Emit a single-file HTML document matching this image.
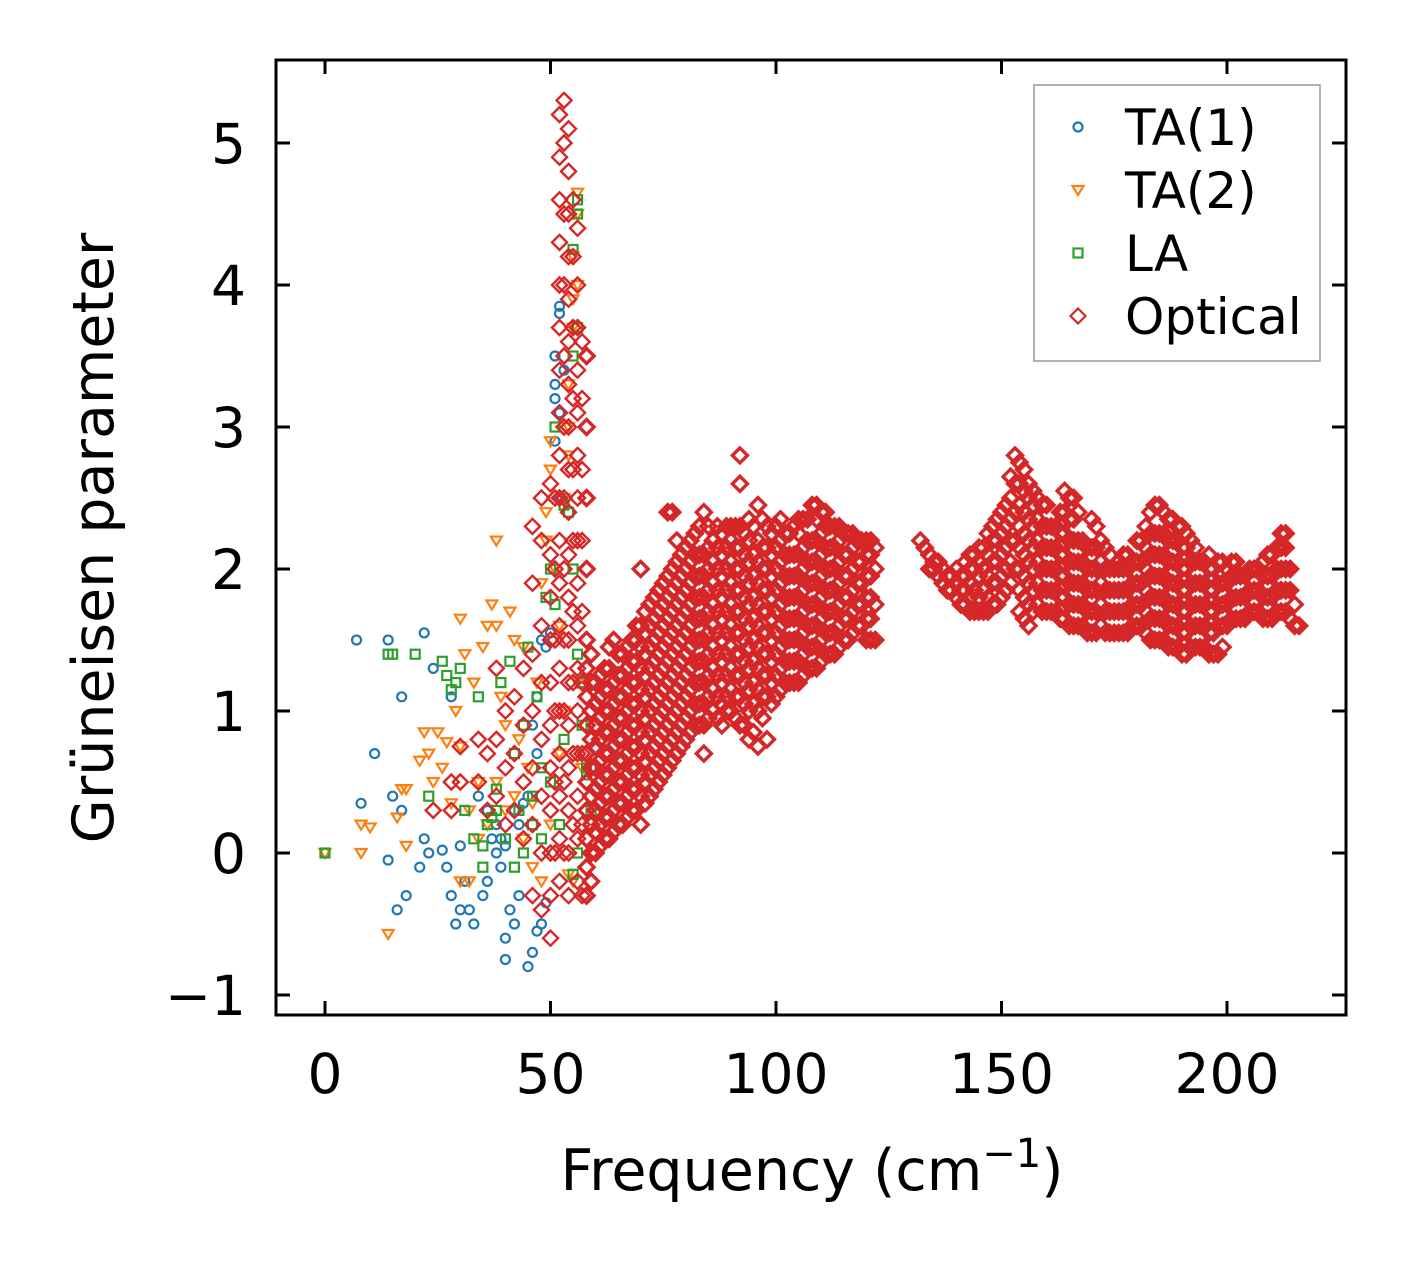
<!DOCTYPE html>
<html><head><meta charset="utf-8"><style>
html,body{margin:0;padding:0;background:#fff;}
svg{display:block;font-family:"DejaVu Sans","Liberation Sans",sans-serif;}
</style></head><body>
<svg id="chart" width="1406" height="1264" viewBox="0 0 1406 1264" xmlns="http://www.w3.org/2000/svg">
<g id="marks"></g>
<g id="axes"></g>
</svg>
<script>
const xTicks=[0,50,100,150,200];
const yTicks=[-1,0,1,2,3,4,5];
const ta1X=[0,7,8,11,14,14,15,16,17,17,18,22,21,22,23,24,26,28,28,29,30,31,32,33,34,35,36,37,38,39,40,40,41,42,42,43,44,45,46,47,48,49,45,46,47,48,49,50,51,51,51,52,52,53,52,51,52,47,38,40,36,30,27,39,43];
const ta1Y=[0,1.5,0.35,0.7,1.5,-0.05,0.4,-0.4,1.1,0.3,-0.3,1.55,-0.1,0.1,0,1.3,0.02,1.1,-0.3,-0.5,-0.4,-0.2,-0.4,-0.5,0.4,-0.3,-0.2,0.1,0.2,0.1,-0.6,-0.75,-0.4,-0.5,0.3,-0.3,0.35,-0.8,-0.7,-0.55,-0.5,-0.35,0.4,0.9,1.1,1.5,1.45,1.55,3.5,3.2,3.3,3.85,3.8,3.4,3.1,2.9,2.5,0.7,0,0.05,0.3,0.05,-0.1,-0.1,0.2];
const ta2X=[0,8,8,10,14,16,17,18,18,21,22,23,24,25,26,27,28,29,30,31,30,32,33,34,35,36,37,38,38,39,40,41,42,43,44,45,46,47,48,49,49,50,50,51,52,53,54,54,55,55,56,56,56,55,54,53,52,50,48,46,44,42,40,38,36,34,32,30,55,57,56,54];
const ta2Y=[0,0.2,0,0.18,-0.57,0.25,0.45,0.45,0.05,0.65,0.85,0.7,0.5,0.85,0.6,0.78,0.35,1.0,1.65,1.4,0.75,0.3,1.2,0.5,1.45,1.6,1.75,1.6,2.2,1.1,0.9,1.7,1.5,0.8,1.45,0.6,0.35,1.2,1.9,2.2,2.4,2.9,2.7,2.0,1.6,2.5,3.0,3.3,3.7,3.9,4.0,4.5,4.65,4.2,2.8,1.0,0.7,0.2,-0.2,-0.1,0.1,0.4,0.3,0.5,0.2,0.1,-0.2,-0.2,-0.2,0.6,1.2,-0.15];
const laX=[0,14,15,20,23,26,27,28,29,30,31,33,34,36,38,39,41,42,43,44,45,46,47,48,49,50,51,51,53,54,55,55,56,56,56,55,56,57,57,58,58,59,59,56,55,53,52,50,48,46,44,42,40,38,35,35,37];
const laY=[0,1.4,1.4,1.4,0.4,1.35,1.25,1.15,1.2,1.3,0.3,0.1,1.1,0.2,0.45,1.2,1.35,0.7,0.3,0.9,1.45,0.4,1.1,0.6,1.8,2.0,3.0,1.75,2.45,2.4,3.5,4.25,4.6,4.5,3.7,2.0,1.4,1.2,0.9,0.6,0.55,0.6,0.3,0,-0.15,0.8,0.2,0.5,0.1,0.2,0,-0.1,0.1,0.3,-0.1,0.05,0.25];
// optical: columns of [x, y...]
const opticalCols=[
[24,0.3],[28,0.3,0.5],[30,0.5,0.75],[34,0.5,0.8],[36,0.3,0.7],[38,0.4,0.8,1.3],[40,0.2,0.6,1.0],[42,0.3,0.7,1.1],[44,0.1,0.5,0.9,1.3],
[46,-0.3,0.2,0.6,1.0,1.4,1.9,2.3],[48,-0.4,0,0.4,0.8,1.2,1.6,2.2,2.5],
[50,-0.6,-0.3,0,0.3,0.6,0.9,1.2,1.5,1.8,2.1,2.6],
[51,0,0.5,1.0,1.5,2.0,2.5],
[52,-0.2,0.1,0.4,0.7,1.0,1.3,1.6,1.9,2.2,2.5,2.8,3.1,3.4,3.7,4.0,4.3,4.6,4.9,5.2],
[53,0,0.5,1.0,1.5,2.0,2.5,3.0,3.5,4.0,4.5,5.0,5.3],
[54,-0.3,0,0.3,0.6,0.9,1.2,1.5,1.8,2.1,2.4,2.7,3.0,3.3,3.6,3.9,4.2,4.5,4.8,5.1],
[55,0.2,0.7,1.2,1.7,2.2,2.7,3.2,3.7,4.2,4.6],
[56,-0.2,0.1,0.4,0.7,1.0,1.3,1.6,1.9,2.2,2.5,2.8,3.1,3.4,3.7,4.0,4.4],
[57,-0.3,0.2,0.7,1.2,1.7,2.2,2.7,3.2,3.6],
[58,-0.3,-0.1,0.1,0.3,0.5,0.7,0.9,1.1,1.3,1.5,2.0,2.5,3.0,3.5],
[59,-0.2,0,0.2,0.4,0.6,0.8,1.0,1.2,1.4],
[60,0,0.15,0.3,0.45,0.6,0.75,0.9,1.05,1.2],
[61,0.05,0.2,0.35,0.5,0.65,0.8,0.95,1.1,1.25],
[62,0.1,0.25,0.4,0.55,0.7,0.85,1.0,1.15,1.3],
[63,0.1,0.25,0.4,0.55,0.7,0.85,1.0,1.15,1.3,1.45],
[64,0.15,0.3,0.45,0.6,0.75,0.9,1.05,1.2,1.5],
[65,0.2,0.35,0.5,0.65,0.8,0.95,1.1,1.25,1.4],
[66,0.2,0.35,0.5,0.65,0.8,0.95,1.1,1.25,1.4],
[67,0.25,0.4,0.55,0.7,0.85,1.0,1.15,1.3,1.45],
[68,0.3,0.45,0.6,0.75,0.9,1.05,1.2,1.35,1.5],
[69,0.3,0.45,0.6,0.75,0.9,1.05,1.2,1.35,1.5,1.6],
[70,0.2,0.4,0.55,0.7,0.85,1.0,1.15,1.3,1.45,1.6,2.0],
[71,0.35,0.5,0.65,0.8,0.95,1.1,1.25,1.4,1.55,1.7],
[72,0.4,0.55,0.7,0.85,1.0,1.15,1.3,1.45,1.6,1.75],
[73,0.45,0.6,0.75,0.9,1.05,1.2,1.35,1.5,1.65,1.8],
[74,0.5,0.65,0.8,0.95,1.1,1.25,1.4,1.55,1.7,1.85],
[75,0.55,0.7,0.85,1.0,1.15,1.3,1.45,1.6,1.75,1.9],
[76,0.6,0.75,0.9,1.05,1.2,1.35,1.5,1.65,1.8,1.95,2.4],
[77,0.65,0.8,0.95,1.1,1.25,1.4,1.55,1.7,1.85,2.0,2.4],
[78,0.7,0.85,1.0,1.15,1.3,1.45,1.6,1.75,1.9,2.05,2.2],
[79,0.75,0.9,1.05,1.2,1.35,1.5,1.65,1.8,1.95,2.1],
[80,0.8,0.95,1.1,1.25,1.4,1.55,1.7,1.85,2.0,2.15],
[81,0.85,1.0,1.15,1.3,1.45,1.6,1.75,1.9,2.05,2.2],
[82,0.9,1.05,1.2,1.35,1.5,1.65,1.8,1.95,2.1,2.25],
[83,0.9,1.05,1.2,1.35,1.5,1.65,1.8,1.95,2.1,2.3],
[84,0.7,0.9,1.05,1.2,1.35,1.5,1.65,1.8,1.95,2.1,2.4],
[85,0.95,1.1,1.25,1.4,1.55,1.7,1.85,2.0,2.15,2.3],
[86,1.0,1.15,1.3,1.45,1.6,1.75,1.9,2.05,2.2],
[87,0.95,1.1,1.25,1.4,1.55,1.7,1.85,2.0,2.15,2.3],
[88,0.9,1.05,1.2,1.35,1.5,1.65,1.8,1.95,2.1,2.25],
[89,1.0,1.1,1.25,1.4,1.55,1.7,1.85,2.0,2.15,2.3],
[90,1.0,1.15,1.3,1.45,1.6,1.75,1.9,2.05,2.2,2.3],
[91,0.95,1.1,1.25,1.4,1.55,1.7,1.85,2.0,2.15,2.3],
[92,0.9,1.1,1.25,1.4,1.55,1.7,1.85,2.0,2.15,2.3,2.8,2.6],
[93,0.9,1.05,1.2,1.35,1.5,1.65,1.8,1.95,2.1,2.25],
[94,0.8,1.0,1.15,1.3,1.45,1.6,1.75,1.9,2.05,2.2,2.35],
[95,0.85,1.05,1.2,1.35,1.5,1.65,1.8,1.95,2.1,2.3],
[96,0.75,1.0,1.15,1.3,1.45,1.6,1.75,1.9,2.05,2.2,2.45],
[97,0.95,1.1,1.25,1.4,1.55,1.7,1.85,2.0,2.15,2.35],
[98,0.8,1.1,1.25,1.4,1.55,1.7,1.85,2.0,2.15,2.3],
[99,1.05,1.2,1.35,1.5,1.65,1.8,1.95,2.1,2.25],
[100,1.1,1.25,1.4,1.55,1.7,1.85,2.0,2.15,2.3],
[101,1.15,1.3,1.45,1.6,1.75,1.9,2.05,2.2,2.35],
[102,1.2,1.35,1.5,1.65,1.8,1.95,2.1,2.25],
[103,1.2,1.35,1.5,1.65,1.8,1.95,2.1,2.25],
[104,1.2,1.35,1.5,1.65,1.8,1.95,2.1,2.3],
[105,1.2,1.35,1.5,1.65,1.8,1.95,2.1,2.25,2.35],
[106,1.25,1.4,1.55,1.7,1.85,2.0,2.15,2.35],
[107,1.3,1.45,1.6,1.75,1.9,2.05,2.2,2.35],
[108,1.3,1.45,1.6,1.75,1.9,2.05,2.2,2.45],
[109,1.3,1.45,1.6,1.75,1.9,2.05,2.2,2.35,2.45],
[110,1.35,1.5,1.65,1.8,1.95,2.1,2.25,2.4],
[111,1.4,1.55,1.7,1.85,2.0,2.15,2.3,2.4],
[112,1.4,1.55,1.7,1.85,2.0,2.15,2.3],
[113,1.4,1.55,1.7,1.85,2.0,2.15,2.3],
[114,1.45,1.6,1.75,1.9,2.05,2.2,2.3],
[115,1.5,1.65,1.8,1.95,2.1,2.25],
[116,1.5,1.65,1.8,1.95,2.1,2.25],
[117,1.55,1.7,1.85,2.0,2.15,2.25],
[118,1.6,1.75,1.9,2.05,2.2],
[119,1.6,1.75,1.9,2.05,2.2],
[120,1.5,1.65,1.8,1.95,2.1,2.2],
[121,1.5,1.65,1.8,1.95,2.1,2.2],
[122,1.5,1.75,2.0,2.15],
[132,2.2],[133,2.15],[134,2.1,2.0],[135,2.0,2.05],[136,1.95,2.05],[137,1.9,2.0],[138,1.85,1.95],[139,1.85,1.95],[140,1.8,1.9,2.0],
[141,1.75,1.85,1.95],[142,1.75,1.85,1.95,2.05],[143,1.7,1.8,1.9,2.0,2.1],[144,1.7,1.85,2.0,2.1],[145,1.7,1.8,1.95,2.05,2.15],[146,1.7,1.85,2.0,2.15],
[147,1.7,1.8,1.95,2.1,2.25],[148,1.75,1.9,2.05,2.2,2.3],[149,1.75,1.9,2.05,2.2,2.35],[150,1.8,1.95,2.1,2.25,2.4],[151,1.85,2.0,2.15,2.3,2.45],[152,1.9,2.05,2.2,2.35,2.5,2.65],
[153,2.0,2.2,2.4,2.6,2.8],[154,1.7,1.85,2.0,2.15,2.3,2.45,2.6,2.75],[155,1.65,1.8,1.95,2.1,2.25,2.4,2.55,2.7],
[156,1.6,1.75,1.9,2.05,2.2,2.35,2.5,2.6],[157,1.7,1.85,2.0,2.15,2.3,2.45,2.55],[158,1.75,1.9,2.05,2.2,2.35,2.5],[159,1.7,1.85,2.0,2.15,2.3,2.45],
[160,1.7,1.85,2.0,2.15,2.3,2.45],[161,1.7,1.85,2.0,2.15,2.3],[162,1.7,1.85,2.0,2.15,2.3],[163,1.65,1.8,1.95,2.1,2.25,2.4],
[164,1.65,1.8,1.95,2.1,2.25,2.4,2.55],[165,1.6,1.75,1.9,2.05,2.2,2.35,2.5],[166,1.6,1.75,1.9,2.05,2.2,2.35,2.5],[167,1.6,1.75,1.9,2.05,2.2,2.4],
[168,1.6,1.75,1.9,2.05,2.2],[169,1.55,1.7,1.85,2.0,2.15],[170,1.55,1.7,1.85,2.0,2.15,2.35],[171,1.55,1.7,1.85,2.0,2.15,2.3],[172,1.6,1.75,1.9,2.05,2.2],[173,1.55,1.7,1.85,2.0,2.15],
[174,1.55,1.7,1.85,2.0,2.1],[175,1.55,1.7,1.85,2.0],[176,1.55,1.7,1.85,2.0,2.05],[177,1.55,1.7,1.85,2.0,2.1],[178,1.55,1.7,1.85,2.0,2.1],[179,1.6,1.75,1.9,2.05],
[180,1.6,1.75,1.9,2.05,2.2],[181,1.6,1.75,1.9,2.05,2.2],[182,1.55,1.7,1.85,2.0,2.15,2.3],[183,1.5,1.65,1.8,1.95,2.1,2.25,2.4],[184,1.5,1.65,1.8,1.95,2.1,2.25,2.45],
[185,1.5,1.65,1.8,1.95,2.1,2.25,2.45],[186,1.5,1.65,1.8,1.95,2.1,2.25,2.4],[187,1.45,1.6,1.75,1.9,2.05,2.2,2.35],[188,1.45,1.6,1.75,1.9,2.05,2.2,2.35],[189,1.45,1.6,1.75,1.9,2.05,2.2,2.3],
[190,1.4,1.55,1.7,1.85,2.0,2.15,2.3],[191,1.4,1.55,1.7,1.85,2.0,2.15,2.25],[192,1.45,1.6,1.75,1.9,2.05,2.2],[193,1.45,1.6,1.75,1.9,2.05,2.15],
[194,1.45,1.6,1.75,1.9,2.05],[195,1.45,1.6,1.75,1.9,2.05],[196,1.4,1.55,1.7,1.85,2.0,2.1],[197,1.4,1.55,1.7,1.85,2.0],[198,1.4,1.6,1.75,1.9,2.05],[199,1.45,1.6,1.75,1.9,2.05],
[200,1.6,1.75,1.9,2.0],[201,1.65,1.8,1.95,2.05],[202,1.65,1.8,1.95,2.05],[203,1.65,1.8,1.95],[204,1.65,1.8,1.95],[205,1.7,1.85,2.0],[206,1.7,1.85,2.0],[207,1.7,1.85,2.0],
[208,1.65,1.8,1.95,2.05],[209,1.65,1.8,1.95,2.1],[210,1.65,1.8,1.95,2.1],[211,1.7,1.85,2.0,2.15],[212,1.7,1.85,2.0,2.15,2.25],[213,1.7,1.85,2.0,2.15,2.25],[214,1.65,1.85,2.0],[215,1.6,1.75],[216,1.6]
];
const legendLabels=["TA(1)","TA(2)","LA","Optical"];

const NS="http://www.w3.org/2000/svg";
const L=276,R=1346,T=60,B=1015;
function sx(v){return 325+v*(1227-325)/200;}
function sy(v){return 853-v*(853-143)/5;}
function mk(tag,attrs,parent){const e=document.createElementNS(NS,tag);for(const k in attrs)e.setAttribute(k,attrs[k]);parent.appendChild(e);return e;}
const marks=document.getElementById('marks');
const axes=document.getElementById('axes');
const C={b:"#1f77b4",o:"#ff7f0e",g:"#2ca02c",r:"#d62728"};
function circle(x,y,p){return mk('circle',{cx:x,cy:y,r:4.5,fill:'none',stroke:C.b,'stroke-width':2.2},p);}
function tri(x,y,p){return mk('path',{d:`M${x-5.5},${y-4} L${x+5.5},${y-4} L${x},${y+5} Z`,fill:'none',stroke:C.o,'stroke-width':2.2},p);}
function sq(x,y,p){return mk('rect',{x:x-4.5,y:y-4.5,width:9,height:9,fill:'none',stroke:C.g,'stroke-width':2.2},p);}
function dia(x,y,p,w){return mk('path',{d:`M${x},${y-7.5} L${x+7.5},${y} L${x},${y+7.5} L${x-7.5},${y} Z`,fill:'none',stroke:C.r,'stroke-width':w||3.4},p);}

const g1=mk('g',{},marks);


ta1X.forEach((v,i)=>{const e=circle(sx(v),sy(ta1Y[i]),g1);

});
const g2=mk('g',{},marks);


ta2X.forEach((v,i)=>{const e=tri(sx(v),sy(ta2Y[i]),g2);

});
const g3=mk('g',{},marks);


laX.forEach((v,i)=>{const e=sq(sx(v),sy(laY[i]),g3);

});
const g4=mk('g',{},marks);


opticalCols.forEach(col=>{for(let j=1;j<col.length;j++){const e=dia(sx(col[0]),sy(col[j]),g4,col[0]<58?2.4:3.4);

}});

const fr=mk('rect',{x:L,y:T,width:R-L,height:B-T,fill:'none',stroke:'#000','stroke-width':3},axes);


xTicks.forEach(t=>{const x=sx(t);
mk('line',{x1:x,y1:B,x2:x,y2:B-14,stroke:'#000','stroke-width':3},axes);
mk('line',{x1:x,y1:T,x2:x,y2:T+14,stroke:'#000','stroke-width':3},axes);
const tx=mk('text',{x:x,y:1093,'font-size':55,'text-anchor':'middle',fill:'#000'},axes);tx.textContent=String(t);

});
yTicks.forEach(t=>{const y=sy(t);
mk('line',{x1:L,y1:y,x2:L+14,y2:y,stroke:'#000','stroke-width':3},axes);
mk('line',{x1:R,y1:y,x2:R-14,y2:y,stroke:'#000','stroke-width':3},axes);
const tx=mk('text',{x:246,y:y+20,'font-size':55,'text-anchor':'end',fill:'#000'},axes);tx.textContent=t<0?'\u2212'+Math.abs(t):String(t);

});
const xl=mk('text',{x:812,y:1190,'font-size':57,'text-anchor':'middle',fill:'#000'},axes);
xl.innerHTML='Frequency (cm<tspan dy="-23" font-size="40">\u22121</tspan><tspan dy="23">)</tspan>';


const yl=mk('text',{x:0,y:0,'font-size':57,'text-anchor':'middle',fill:'#000',transform:'translate(113,538) rotate(-90)'},axes);
yl.textContent='Grüneisen parameter';


const lg=mk('g',{},axes);


mk('rect',{x:1034,y:85,width:286,height:276,fill:'#fff',stroke:'#999','stroke-width':1.5},lg);
const fns=[circle,tri,sq,dia];
legendLabels.forEach((lab,i)=>{const y=127+i*63;
const e=fns[i](1078,y,lg,2.2);


const t=mk('text',{x:1125,y:y+18,'font-size':50,fill:'#000'},lg);t.textContent=lab;

});
</script>
</body></html>
